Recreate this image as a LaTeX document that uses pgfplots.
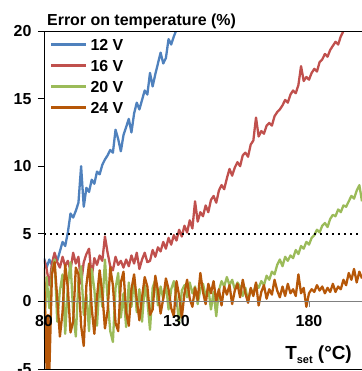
\documentclass[border=0pt]{standalone}
\usepackage{pgfplots}
\pgfplotsset{compat=1.18}
\usepackage{fontspec}
\setmainfont{Liberation Sans}
\usetikzlibrary{calc}

\definecolor{cBlue}{HTML}{4F81BD}
\definecolor{cRed}{HTML}{C0504D}
\definecolor{cGreen}{HTML}{9BBB59}
\definecolor{cOrange}{HTML}{B65708}

\begin{document}
\begin{tikzpicture}
\begin{axis}[
    scale only axis,
    width=318bp, height=338bp,
    xmin=80, xmax=200,
    ymin=-5, ymax=20,
    axis on top,
    axis x line=middle,
    axis y line=left,
    x axis line style={gray, -, line width=0.8bp},
    y axis line style={black, -, line width=0.8bp},
    hide obscured x ticks=false,
    hide obscured y ticks=false,
    xtick={80,130,180},
    ytick={-5,0,5,10,15,20},
    minor tick num=0,
    tick align=outside,
    major tick length=6bp,
    x tick style={gray, line width=0.8bp},
    y tick style={black, line width=0.8bp},
    /pgf/number format/assume math mode=true,
    tick label style={font=\bfseries\fontsize{16}{16}\selectfont},
    yticklabel style={xshift=-3bp},
    xticklabel style={yshift=-4bp},
    legend cell align=left,
    legend image code/.code={\draw[#1] (0bp,0bp) -- (35bp,0bp);},
    legend style={draw=none, fill=none, at={(0.019,0.978)}, anchor=north west,
        font=\bfseries\fontsize{16}{16}\selectfont,
        inner sep=0pt, row sep=9bp,
        nodes={inner sep=0pt, text height=12bp, text depth=0bp},
        /tikz/every odd column/.style={column sep=3bp}},
    every axis plot/.append style={line width=2.3bp, line join=round},
]

% 12 V
\addplot[cBlue] coordinates {
(80,3.2) (81,2.5) (82,3.1) (83,2.7) (84,3.5) (85,3.0) (86,3.7) (87,4.4) (88,4.1) (89,5.1)
(90,6.5) (91,6.2) (92,6.7) (93,7.3) (94,10.0) (95,7.0) (96,8.4) (97,8.1) (98,9.0) (99,8.7)
(100,9.6) (101,9.4) (102,10.1) (103,10.5) (104,10.8) (105,11.2) (106,11.0) (107,12.7) (108,12.0) (109,11.1)
(110,12.3) (111,12.9) (112,13.5) (113,12.5) (114,13.9) (115,14.7) (116,14.2) (117,14.9) (118,15.6) (119,15.3)
(120,16.9) (121,15.9) (122,16.8) (123,17.6) (124,18.4) (125,17.6) (126,18.0) (127,19.4) (128,19.0) (129,19.6)
(130,20.1) (131,20.5)
};
\addlegendentry{12 V}

% 16 V
\addplot[cRed] coordinates {
(80,3.1) (81,2.4) (82,1.2) (83,2.8) (84,3.6) (85,2.9) (86,2.5) (87,3.3) (88,2.6) (89,3.0)
(90,2.3) (91,3.6) (92,2.8) (93,3.3) (94,1.3) (95,2.9) (96,3.5) (97,3.9) (98,1.8) (99,3.2)
(100,2.7) (101,3.4) (102,3.0) (103,4.8) (104,3.6) (105,2.6) (106,2.3) (107,3.3) (108,2.7) (109,3.0)
(110,2.5) (111,3.1) (112,2.6) (113,3.4) (114,2.8) (115,3.6) (116,2.4) (117,3.1) (118,3.6) (119,2.9)
(120,3.0) (121,3.8) (122,3.3) (123,4.0) (124,3.7) (125,4.4) (126,3.9) (127,4.7) (128,4.2) (129,4.9)
(130,4.5) (131,5.3) (132,4.8) (133,5.6) (134,5.1) (135,6.0) (136,5.4) (137,7.4) (138,5.9) (139,6.6)
(140,6.3) (141,7.1) (142,6.6) (143,7.5) (144,7.8) (145,7.3) (146,8.2) (147,8.6) (148,8.3) (149,9.1)
(150,9.8) (151,9.3) (152,9.9) (153,10.3) (154,10.0) (155,10.8) (156,11.0) (157,10.7) (158,11.6) (159,11.9)
(160,13.6) (161,12.2) (162,12.6) (163,12.4) (164,13.0) (165,13.2) (166,13.0) (167,13.7) (168,14.0) (169,14.2)
(170,14.5) (171,14.9) (172,14.7) (173,15.3) (174,15.6) (175,15.4) (176,16.0) (177,17.4) (178,16.3) (179,16.6)
(180,16.4) (181,16.9) (182,17.2) (183,17.0) (184,17.7) (185,17.9) (186,18.3) (187,18.1) (188,18.6) (189,18.9)
(190,19.2) (191,19.0) (192,19.6) (193,20.0) (194,20.3) (195,20.6)
};
\addlegendentry{16 V}

% 20 V
\addplot[cGreen] coordinates {
(80,-2.8) (81,1.8) (82,-0.5) (83,2.2) (84,3.1) (85,-1.5) (86,0.8) (87,2.0) (88,-2.4) (89,1.2)
(90,2.9) (91,-0.8) (92,-2.6) (93,1.5) (94,2.6) (95,-1.0) (96,0.5) (97,-2.2) (98,2.4) (99,0.9)
(100,-1.8) (101,1.6) (102,-0.4) (103,3.1) (104,0.2) (105,-2.2) (106,-3.0) (107,1.0) (108,2.1) (109,-1.2)
(110,0.6) (111,-1.9) (112,1.4) (113,-0.4) (114,1.8) (115,-0.8) (116,0.9) (117,-1.5) (118,1.2) (119,0.1)
(120,-2.1) (121,1.0) (122,1.6) (123,-0.3) (124,1.1) (125,0.2) (126,1.3) (127,-0.6) (128,0.9) (129,1.5)
(130,0.2) (131,-1.6) (132,0.8) (133,1.2) (134,0.3) (135,1.4) (136,0.6) (137,1.1) (138,-0.2) (139,0.9)
(140,1.3) (141,0.4) (142,1.0) (143,-0.6) (144,0.7) (145,-1.1) (146,0.8) (147,1.5) (148,1.1) (149,1.8)
(150,1.2) (151,1.6) (152,0.9) (153,1.4) (154,1.1) (155,0.4) (156,1.0) (157,0.0) (158,0.9) (159,0.6)
(160,1.3) (161,1.0) (162,1.5) (163,1.2) (164,1.9) (165,1.6) (166,2.2) (167,2.0) (168,2.7) (169,3.1)
(170,2.6) (171,3.3) (172,3.0) (173,3.4) (174,3.2) (175,3.8) (176,3.5) (177,4.1) (178,3.9) (179,4.4)
(180,4.2) (181,4.7) (182,4.9) (183,5.3) (184,5.1) (185,5.6) (186,5.8) (187,5.5) (188,6.1) (189,6.4)
(190,6.3) (191,6.8) (192,6.6) (193,7.1) (194,7.0) (195,7.4) (196,7.8) (197,7.6) (198,8.2) (199,8.6)
(200,7.4)
};
\addlegendentry{20 V}

% 24 V
\addplot[cOrange] coordinates {
(80,2.5) (81,-5.3) (81.5,-1.0) (82,-5.3) (83,2.0) (84,2.9) (85,0.2) (86,-2.6) (87,-0.8) (88,2.7) (89,1.0)
(90,-2.3) (91,-1.5) (92,2.5) (93,2.0) (94,-1.8) (95,-3.3) (96,1.2) (97,2.8) (98,-0.5) (99,-2.4)
(100,0.3) (101,2.3) (102,0.6) (103,-2.0) (104,-0.7) (105,2.5) (106,1.2) (107,-1.6) (108,-2.2) (109,1.4)
(110,2.2) (111,-0.8) (112,-1.8) (113,0.9) (114,2.0) (115,0.1) (116,-1.4) (117,0.3) (118,1.8) (119,1.1)
(120,-1.0) (121,-0.6) (122,1.9) (123,0.8) (124,-0.9) (125,0.2) (126,1.7) (127,0.9) (128,-0.5) (129,-1.1)
(130,1.5) (131,0.4) (132,-1.2) (133,0.6) (134,1.6) (135,0.2) (136,-0.4) (137,1.0) (138,0.1) (139,2.1)
(140,0.7) (141,-0.2) (142,1.3) (143,0.6) (144,1.5) (145,0.0) (146,0.9) (147,-0.3) (148,1.1) (149,0.5)
(150,1.2) (151,-0.2) (152,0.8) (153,1.3) (154,0.3) (155,1.6) (156,0.6) (157,-0.1) (158,1.0) (159,0.4)
(160,1.4) (161,-0.3) (162,0.7) (163,1.2) (164,0.2) (165,0.9) (166,0.5) (167,1.6) (168,0.8) (169,0.3)
(170,1.1) (171,0.4) (172,1.3) (173,0.6) (174,0.9) (175,0.4) (176,2.0) (177,0.6) (178,1.0) (179,-0.4)
(180,0.6) (181,0.9) (182,0.7) (183,1.2) (184,0.8) (185,1.1) (186,0.6) (187,1.0) (188,0.7) (189,1.3)
(190,0.7) (191,1.1) (192,0.9) (193,1.6) (194,1.2) (195,2.1) (196,1.6) (197,2.4) (198,1.4) (199,2.2)
(200,1.7)
};
\addlegendentry{24 V}

% 5 % limit
\addplot[black, line width=2.4bp, dash pattern=on 2.4bp off 3.6bp] coordinates {(80,5) (200,5)};

\draw[black, line width=0.8bp] (rel axis cs:0,1) -- (rel axis cs:1,1);
\draw[black, line width=0.8bp] (rel axis cs:0,0) -- (rel axis cs:1,0);

\node[anchor=base east, font=\bfseries\fontsize{19}{19}\selectfont, inner sep=0pt]
    at ([xshift=-10bp, yshift=10bp]rel axis cs:1,0) {T\raisebox{-4bp}{\fontsize{11}{11}\selectfont set} (°C)};

\coordinate (bl) at (rel axis cs:0,0);
\coordinate (tr) at (rel axis cs:1,1);
\end{axis}
\node[anchor=base west, font=\bfseries\fontsize{16}{16}\selectfont, inner sep=0pt]
    at ($(bl|-tr)+(3bp,5bp)$) {Error on temperature (\%)};
\pgfresetboundingbox
\path[use as bounding box] ($(bl)+(-44bp,-2bp)$) rectangle ($(tr)+(0bp,31bp)$);
\end{tikzpicture}
\end{document}
